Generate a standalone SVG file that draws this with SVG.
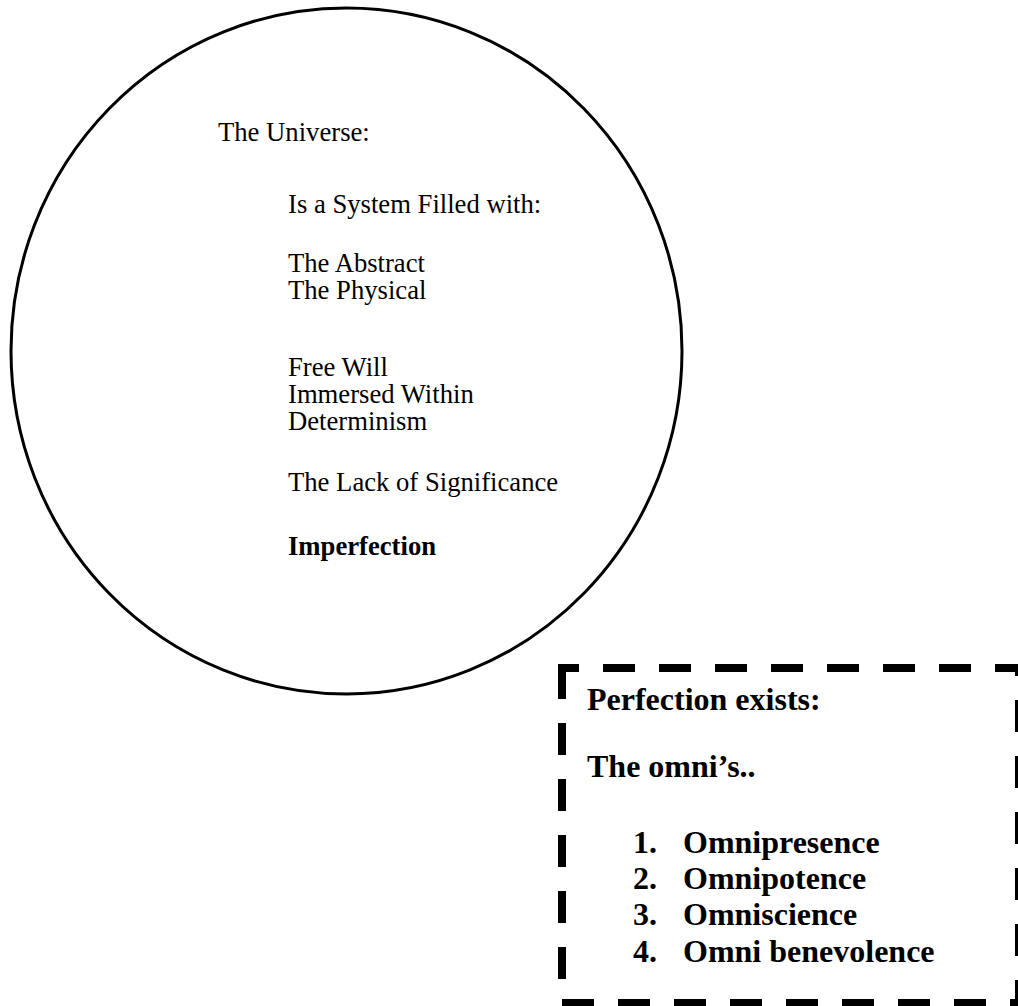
<svg xmlns="http://www.w3.org/2000/svg" width="1018" height="1006" viewBox="0 0 1018 1006">
  <style>
    .serif { font-family: "Liberation Serif", "Times New Roman", serif; fill: #000; }
    .body { font-size: 26.67px; }
    .strong { font-size: 26.67px; font-weight: bold; }
    .boxtext { font-size: 32px; font-weight: bold; }
    .outline { fill: none; stroke: #000; }
  </style>
  <rect width="1018" height="1006" fill="#fff"/>

  <!-- The universe, drawn as a large circle -->
  <g id="universe">
    <ellipse class="outline" cx="346.5" cy="351" rx="335.5" ry="343" stroke-width="3"/>
    <g class="serif body">
      <text x="218" y="141">The Universe:</text>
      <text x="288" y="213">Is a System Filled with:</text>
      <text x="288" y="272">The Abstract</text>
      <text x="288" y="299">The Physical</text>
      <text x="288" y="376">Free Will</text>
      <text x="288" y="403">Immersed Within</text>
      <text x="288" y="430">Determinism</text>
      <text x="288" y="491">The Lack of Significance</text>
    </g>
    <text class="serif strong" x="288" y="555">Imperfection</text>
  </g>

  <!-- Perfection, in a dashed box -->
  <g id="perfection">
    <rect class="outline" x="562" y="668" width="457" height="335" stroke-width="8" stroke-dasharray="32 24" stroke-dashoffset="15"/>
    <g class="serif boxtext">
      <text x="587" y="710">Perfection exists:</text>
      <text x="587" y="777">The omni’s..</text>
      <text x="633" y="853">1.</text>
      <text x="683" y="853">Omnipresence</text>
      <text x="633" y="889">2.</text>
      <text x="683" y="889">Omnipotence</text>
      <text x="633" y="925">3.</text>
      <text x="683" y="925">Omniscience</text>
      <text x="633" y="962">4.</text>
      <text x="683" y="962">Omni benevolence</text>
    </g>
  </g>

  <g id="connectors"/>
</svg>
